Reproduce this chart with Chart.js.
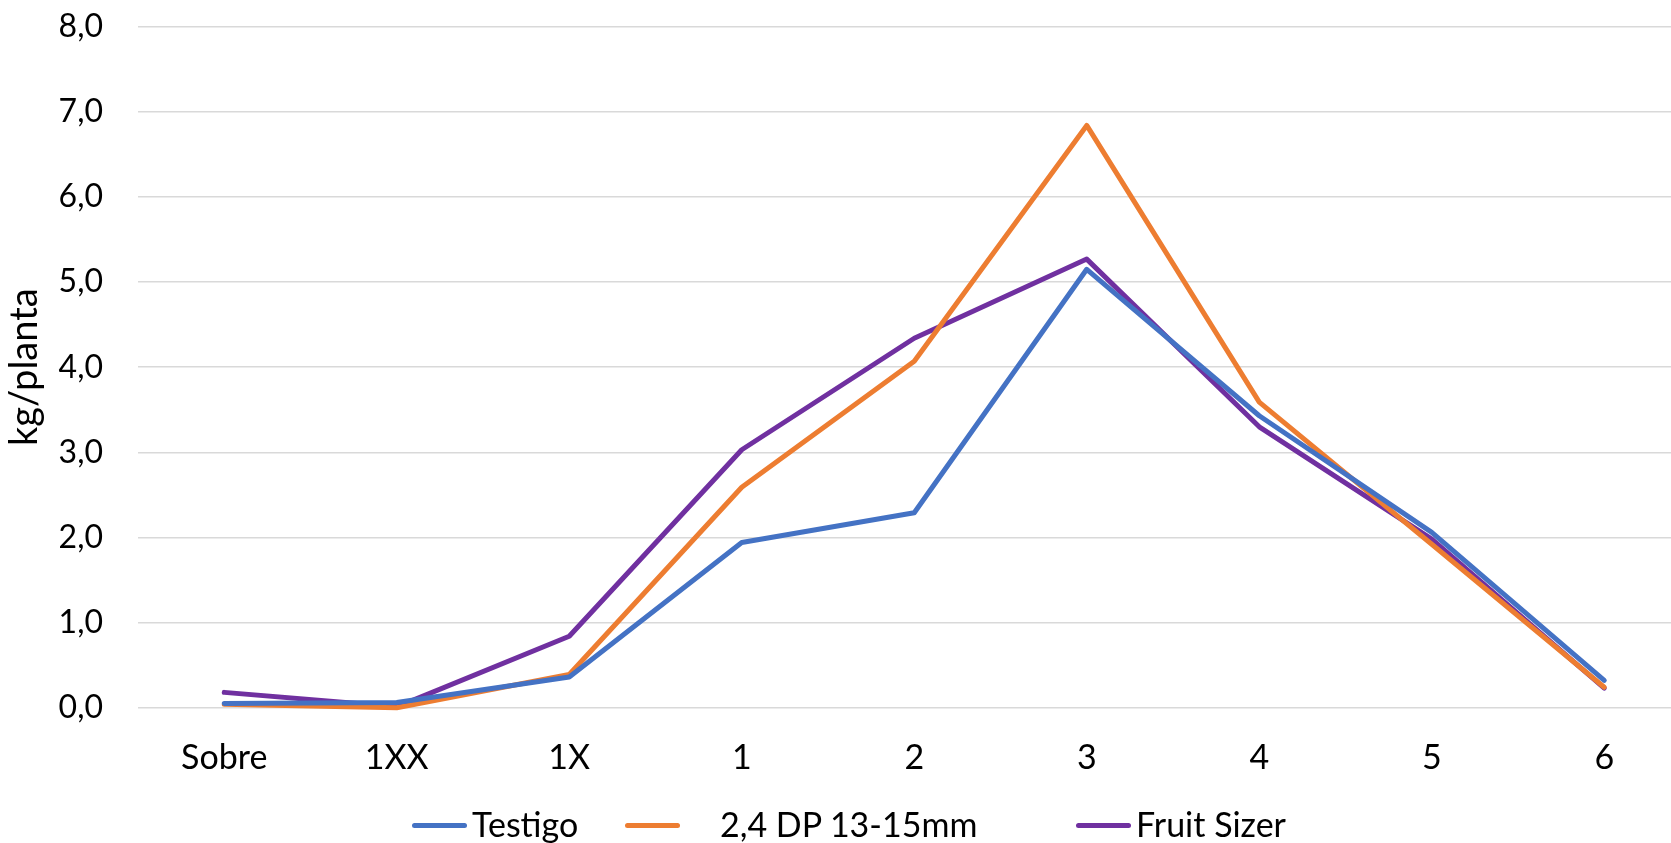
<!DOCTYPE html>
<html>
<head>
<meta charset="utf-8">
<title>kg/planta por calibre</title>
<script src="https://cdn.jsdelivr.net/npm/chart.js@4/dist/chart.umd.min.js"></script>
<style>
  html, body { margin: 0; padding: 0; background: #fff; overflow: hidden; }
  #wrap { position: relative; width: 1714px; height: 843px; }
  #legend .line { position: absolute; height: 5px; width: 55px; border-radius: 3px; top: 822.5px; }
  #legend .txt { position: absolute; top: 807px; height: 34px; line-height: 34px;
                 font-family: Lato, sans-serif; font-size: 34px; color: #000; white-space: nowrap; }
</style>
</head>
<body>
<div id="wrap">
  <canvas id="sizeChart"></canvas>
  <div id="legend"></div>
</div>
<script>
// Calibres (categories)
const categories = ['Sobre', '1XX', '1X', '1', '2', '3', '4', '5', '6'];

// kg/planta per calibre
const testigo   = [0.05, 0.06, 0.36, 1.94, 2.29, 5.15, 3.43, 2.06, 0.32];
const dp24      = [0.04, 0.00, 0.39, 2.59, 4.07, 6.84, 3.59, 1.92, 0.24];
const fruitSize = [0.18, 0.01, 0.84, 3.03, 4.34, 5.27, 3.30, 1.98, 0.23];

const seriesNames = ['Testigo', '2,4 DP 13-15mm', 'Fruit Sizer'];
const yTickLabels = ['0,0', '1,0', '2,0', '3,0', '4,0', '5,0', '6,0', '7,0', '8,0'];

const colors = ['#4472C4', '#ED7D31', '#7030A0'];

// legend placement (line start, text start)
const legendLineX = [412, 625, 1076];
const legendTextX = [472, 720, 1136];

function lineSet(label, data, color) {
    return {
        label: label,
        data: data,
        borderColor: color,
        backgroundColor: color,
        borderWidth: 5,
        borderCapStyle: 'round',
        borderJoinStyle: 'round',
        pointRadius: 0,
        pointHoverRadius: 0,
        tension: 0,
        fill: false,
        clip: false
    };
}

const ctx = document.getElementById('sizeChart');
new Chart(ctx, {
    type: 'line',
    data: {
        labels: categories,
        datasets: [
            lineSet(seriesNames[0], testigo, colors[0]),
            lineSet(seriesNames[1], dp24, colors[1]),
            lineSet(seriesNames[2], fruitSize, colors[2])
        ]
    },
    options: {
        responsive: true,
        maintainAspectRatio: false,
        animation: false,
        layout: { padding: { left: 0, top: 26.7, right: 23.5, bottom: 0 } },
        plugins: {
            legend: { display: false }, // drawn in HTML below
            tooltip: { enabled: false }
        },
        scales: {
            x: {
                offset: true,
                grid: { display: false, drawTicks: false },
                border: { display: false },
                ticks: {
                    color: '#000',
                    padding: 29.8,
                    font: { family: 'Lato', size: 34 }
                },
                afterFit: function (scale) { scale.height = 135.3; }
            },
            y: {
                min: 0,
                max: 8,
                border: { display: false },
                grid: { color: '#d9d9d9', lineWidth: 1.6, drawTicks: false },
                ticks: {
                    stepSize: 1,
                    color: '#000',
                    padding: 35,
                    font: { family: 'Lato', size: 32 },
                    callback: function (v, i) { return yTickLabels[i]; }
                },
                title: {
                    display: true,
                    text: 'kg/planta',
                    color: '#000',
                    padding: { top: 2, bottom: 0 },
                    font: { family: 'Lato', size: 38 }
                },
                afterFit: function (scale) {
                    scale.width = 138;
                    // tick padding would otherwise push the plot top down
                    scale.paddingTop = 0;
                    scale.paddingBottom = 0;
                }
            }
        }
    }
});

// HTML legend built from the series names and colours
const legend = document.getElementById('legend');
seriesNames.forEach(function (name, i) {
    const ln = document.createElement('span');
    ln.className = 'line';
    ln.style.left = legendLineX[i] + 'px';
    ln.style.background = colors[i];
    legend.appendChild(ln);
    const tx = document.createElement('span');
    tx.className = 'txt';
    tx.style.left = legendTextX[i] + 'px';
    tx.textContent = name;
    legend.appendChild(tx);
});
</script>
</body>
</html>
